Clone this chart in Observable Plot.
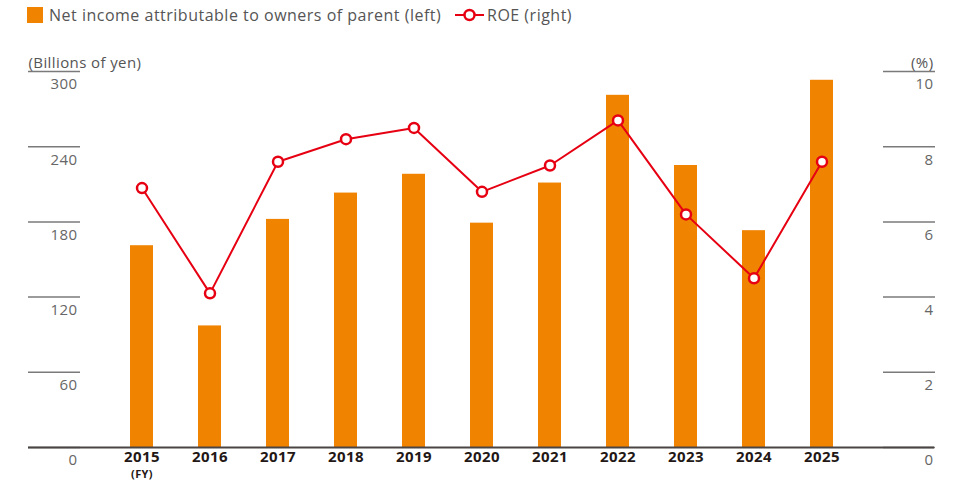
<!DOCTYPE html>
<html>
<head>
<meta charset="utf-8">
<script src="https://cdn.jsdelivr.net/npm/d3@7"></script>
<script src="https://cdn.jsdelivr.net/npm/@observablehq/plot@0.6"></script>
<style>
  html, body { margin: 0; padding: 0; background: #fff; }
  body { width: 965px; height: 481px; overflow: hidden; font-family: "Open Sans", Lato, sans-serif; }
  .legend { height: 30px; position: relative; font-size: 16px; letter-spacing: 0.5px; color: #555; }
  .legend .item { position: absolute; top: 6px; display: flex; align-items: center; height: 18px; white-space: nowrap; }
  .legend .sw { width: 16px; height: 16px; background: #F08300; margin-right: 6px; }
  .legend svg { margin-right: 3px; }
  #chart svg text { letter-spacing: 0.4px; }
  g[aria-label="x-axis tick label"] text { font-weight: bold; letter-spacing: 0.8px; }
</style>
</head>
<body>
<div class="legend">
  <div class="item" style="left:27px"><span class="sw"></span><span>Net income attributable to owners of parent (left)</span></div>
  <div class="item" style="left:455px"><svg width="29" height="16"><line x1="0" y1="8" x2="29" y2="8" stroke="#E60012" stroke-width="2"/><circle cx="14.5" cy="8" r="5" fill="#fff" stroke="#E60012" stroke-width="2.5"/></svg><span>ROE (right)</span></div>
</div>
<div id="chart"></div>
<script>
const years = ["2015","2016","2017","2018","2019","2020","2021","2022","2023","2024","2025"];
const netIncome = [161, 97, 182, 203, 218, 179, 211, 281, 225, 173, 293];
const roe = [6.9, 4.1, 7.6, 8.2, 8.5, 6.8, 7.5, 8.7, 6.2, 4.5, 7.6];
const leftTicks = [0, 60, 120, 180, 240, 300];
const rightTicks = [0, 2, 4, 6, 8, 10];

const data = years.map((y, i) => ({year: y, income: netIncome[i], roe: roe[i]}));
const k = 300 / 10; // ROE (%) mapped onto the yen axis

const chart = Plot.plot({
  width: 965,
  height: 451,
  marginTop: 41,
  marginBottom: 34,
  marginLeft: 80,
  marginRight: 83,
  style: {fontFamily: "'Open Sans', Lato, sans-serif", fontSize: "15px", color: "#555", background: "#fff"},
  x: {type: "band", domain: years, paddingInner: 0.662, paddingOuter: 0.72, axis: null},
  y: {domain: [0, 300], axis: null},
  marks: [
    Plot.barY(data, {x: "year", y: "income", fill: "#F08300"}),
    // left axis: tick lines and labels
    Plot.axisY(leftTicks, {anchor: "left", tickSize: 52, stroke: "#7a7a7a", strokeWidth: 1.5, tickFormat: () => "", label: null}),
    Plot.axisY(leftTicks, {anchor: "left", tickSize: 0, tickPadding: 3, dy: 13, fill: "#666", tickFormat: d => d, label: null}),
    // right axis
    Plot.axisY(rightTicks.map(d => d * k), {anchor: "right", tickSize: 52, stroke: "#7a7a7a", strokeWidth: 1.5, tickFormat: () => "", label: null}),
    Plot.axisY(rightTicks.map(d => d * k), {anchor: "right", tickSize: 0, tickPadding: 51, textAnchor: "end", dy: 13, fill: "#666", tickFormat: d => d / k, label: null}),
    Plot.ruleY([0], {stroke: "#4a4444", strokeWidth: 2, insetLeft: -52, insetRight: -52}),
    Plot.axisX({anchor: "bottom", tickSize: 0, tickPadding: 4, fontSize: 15, fill: "#231815", label: null}),
    Plot.text(["(FY)"], {x: () => years[0], text: d => d, frameAnchor: "bottom", dy: 30, fontSize: 11, fontWeight: "bold", fill: "#231815"}),
    Plot.text(["(Billions of yen)"], {frameAnchor: "top-left", dx: -52, dy: -14, textAnchor: "start", fill: "#555"}),
    Plot.text(["(%)"], {frameAnchor: "top-right", dx: 51, dy: -14, textAnchor: "end", fill: "#555"}),
    Plot.line(data, {x: "year", y: d => d.roe * k, stroke: "#E60012", strokeWidth: 2}),
    Plot.dot(data, {x: "year", y: d => d.roe * k, r: 5, fill: "#fff", stroke: "#E60012", strokeWidth: 2.5})
  ]
});
document.getElementById("chart").appendChild(chart);
</script>
</body>
</html>
